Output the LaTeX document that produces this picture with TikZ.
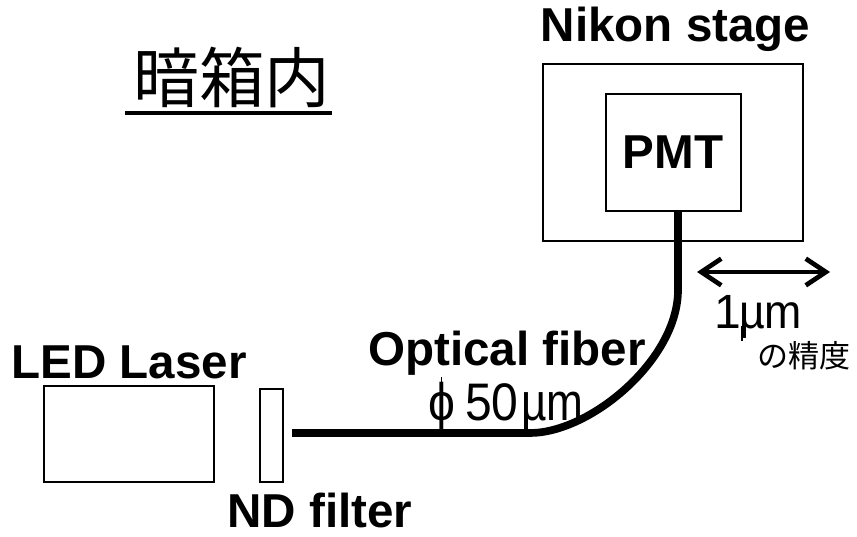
\documentclass[tikz,border=0pt]{standalone}
\usepackage{fontspec}
\setmainfont{Liberation Sans}
\newfontfamily\cjk{Noto Sans CJK JP}
\usetikzlibrary{arrows.meta}

\begin{document}
\begin{tikzpicture}[
    x=0.03cm,y=-0.03cm,
    box/.style={rectangle,draw=black,line width=0.05cm,inner sep=0pt,anchor=north west},
    title/.style={font=\fontsize{40.6}{41}\selectfont\bfseries,inner sep=0pt},
    small/.style={font=\fontsize{41}{41}\selectfont,inner sep=0pt,anchor=base west},
    fiber/.style={draw=black,line width=0.23cm},
    hair/.style={draw=black,line width=0.04cm},
    span/.style={{Straight Barb[length=0.6cm,width=0.8cm]}-{Straight Barb[length=0.6cm,width=0.8cm]},line width=0.14cm},
]
    \useasboundingbox (0,0) rectangle (857,537);

    %%%
    % Stage and detector
    \node[box,minimum width=7.8cm,minimum height=5.31cm] (stage) at (542,63) {};
    \node[box,minimum width=4.05cm,minimum height=3.51cm] (pmt) at (605,93) {};
    \node[title] (pmtlabel) at (673,152) {PMT};
    \node[title] (stagelabel) at (675.5,29) {Nikon stage};

    %%%
    % Source side
    \node[box,minimum width=5.1cm,minimum height=2.88cm] (led) at (43,385) {};
    \node[box,minimum width=0.69cm,minimum height=2.79cm] (nd) at (259,388) {};
    \node[title] (ledlabel) at (129,362) {LED Laser};
    \node[title] (ndlabel) at (320,510) {ND filter};

    %%%
    % Fiber
    \coordinate (start) at (292,433);
    \draw[fiber] (start) -- (530,433) .. controls (590,433) and (678,360) .. (678,290) -- (pmt.south -| 678,0);
    \node[title] (fiberlabel) at (507,353) {Optical fiber};
    \node[small,yscale=1.1] (size) at (428,420) {ϕ};
    \node[small,yscale=1.1] (sizeval) at (465,420) {50};
    \node[small,xscale=0.92,yscale=1.1] (sizeunit) at (521,420) {µm};
    \draw[hair] (size.center |- 0,377) -- (size.center |- 0,429);
    \draw[hair] (527,418) -- (527,430);

    %%%
    % Precision
    \coordinate (left) at (697,272);
    \coordinate (right) at (830,272);
    \draw[span] (left) -- (right);
    \node[small] (prec) at (714,328) {1};
    \node[small,xscale=0.93] (precunit) at (739,328) {µm};
    \draw[hair] (742,326) -- (742,341);
    \node[inner sep=0pt,font=\fontsize{26.5}{26.5}\selectfont\cjk] (preclabel) at (804,356) {の精度};

    %%%
    % Title
    \node[inner sep=0pt,font=\fontsize{56}{56}\selectfont\cjk] (head) at (232,78) {暗箱内};
    \coordinate (ul) at (125,113);
    \coordinate (ur) at (332,113);
    \draw[line width=0.14cm] (ul) -- (ur);

\end{tikzpicture}
\end{document}
